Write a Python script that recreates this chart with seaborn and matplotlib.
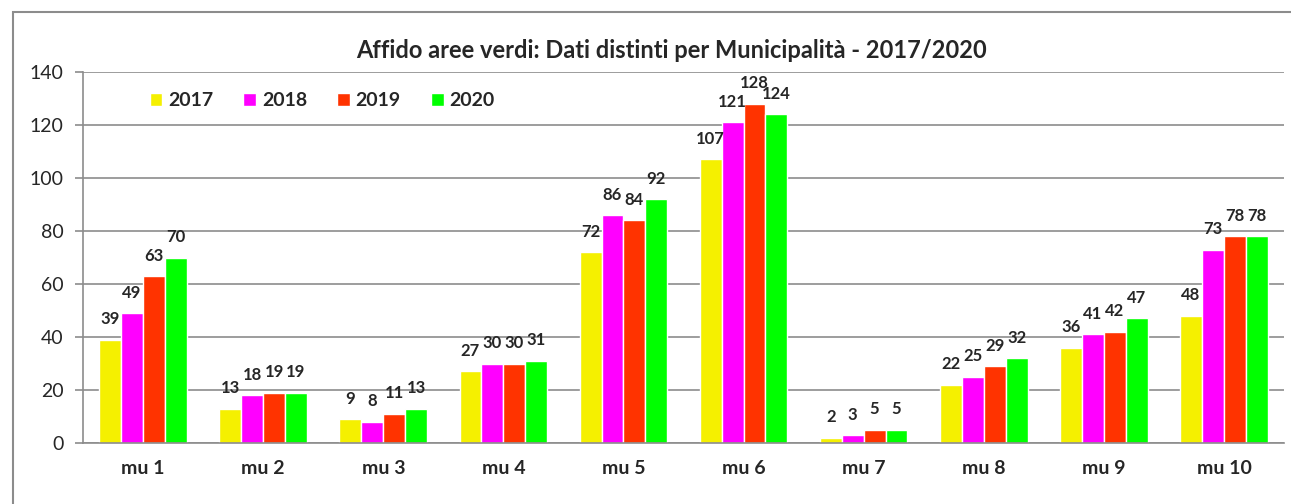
import pandas as pd
import seaborn as sns
import matplotlib.pyplot as plt
from matplotlib.patches import Rectangle, Patch

# Data
municipalita = ['mu 1', 'mu 2', 'mu 3', 'mu 4', 'mu 5', 'mu 6', 'mu 7', 'mu 8', 'mu 9', 'mu 10']
anni = ['2017', '2018', '2019', '2020']
v2017 = [39, 13, 9, 27, 72, 107, 2, 22, 36, 48]
v2018 = [49, 18, 8, 30, 86, 121, 3, 25, 41, 73]
v2019 = [63, 19, 11, 30, 84, 128, 5, 29, 42, 78]
v2020 = [70, 19, 13, 31, 92, 124, 5, 32, 47, 78]
colori = ['#F5F000', '#FF00FF', '#FF3300', '#00FF00']

rows = []
for anno, vals in zip(anni, [v2017, v2018, v2019, v2020]):
    for mu, v in zip(municipalita, vals):
        rows.append({'Municipalita': mu, 'Anno': anno, 'Valore': v})
df = pd.DataFrame(rows)

sns.set_style('white')
plt.rcParams['font.family'] = ['Lato', 'DejaVu Sans']

W, H = 1291, 504
fig = plt.figure(figsize=(W / 100, H / 100), dpi=100)
ax = fig.add_axes([83 / W, 1 - 443 / H, (1284 - 83) / W, (443 - 72) / H])

sns.barplot(data=df, x='Municipalita', y='Valore', hue='Anno', hue_order=anni,
            palette=colori, width=0.73, gap=0, saturation=1, ax=ax, legend=False)

# value labels
for cont in ax.containers:
    labels = [f'{int(b.get_height())}' for b in cont]
    ax.bar_label(cont, labels=labels, padding=9, fontsize=12, fontweight='bold')

ax.set_ylim(0, 140)
ax.set_xlim(-0.5, 9.5)
ax.set_yticks(range(0, 141, 20))
ax.yaxis.grid(True, color='#8c8c8c', linewidth=1.2)
ax.set_axisbelow(True)
ax.set_xlabel('')
ax.set_ylabel('')
for s in ['top', 'right']:
    ax.spines[s].set_visible(False)
ax.spines['left'].set_color('#8c8c8c')
ax.spines['bottom'].set_color('#8c8c8c')
ax.spines['left'].set_linewidth(1.2)
ax.spines['bottom'].set_linewidth(1.2)

# Excel-style ticks between categories
ax.set_xticks([i - 0.5 for i in range(11)], minor=True)
ax.tick_params(axis='x', which='minor', length=6, color='#8c8c8c', width=1.2, direction='out')
ax.tick_params(axis='x', which='major', length=0, pad=12, labelsize=14)
ax.tick_params(axis='y', length=6, color='#8c8c8c', width=1.2, labelsize=14, left=True, pad=8)
for lab in ax.get_xticklabels():
    lab.set_fontweight('bold')

handles = [Patch(facecolor=c, label=a) for c, a in zip(colori, anni)]
ax.legend(handles=handles, ncol=4, loc='center left', bbox_to_anchor=(0.041, 0.922),
          frameon=False, handlelength=0.65, handleheight=0.65, handletextpad=0.3,
          columnspacing=1.55, prop={'weight': 'bold', 'size': 14})

fig.text(671 / W, 1 - 50 / H, 'Affido aree verdi: Dati distinti per Municipalità - 2017/2020',
         ha='center', va='center', fontsize=17, fontweight='bold')

# chart area border
fig.patches.append(Rectangle((12.5 / W, -0.1), 1.2, 1 - 11.5 / H + 0.1, transform=fig.transFigure,
                             fill=False, edgecolor='#8c8c8c', linewidth=1.5))

fig.savefig('out.png', dpi=100)
